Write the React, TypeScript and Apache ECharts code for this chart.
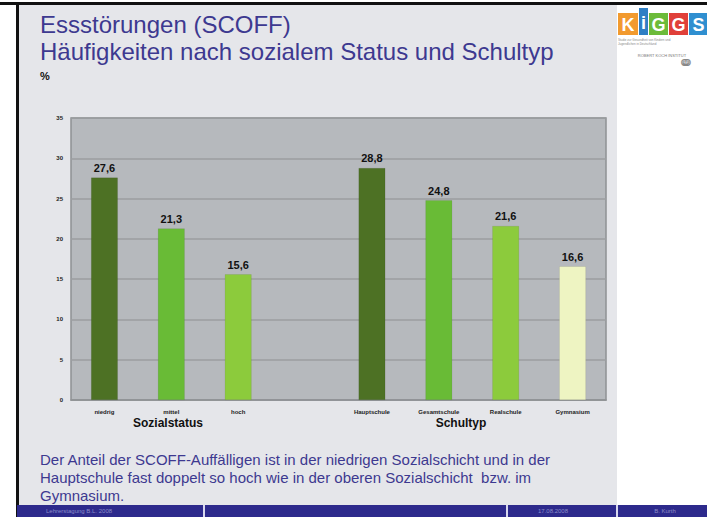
import React, { useEffect, useRef } from "react";
import * as echarts from "echarts";

const categories = ["niedrig", "mittel", "hoch", "", "Hauptschule", "Gesamtschule", "Realschule", "Gymnasium"];
const values: (number | null)[] = [27.6, 21.3, 15.6, null, 28.8, 24.8, 21.6, 16.6];
const barColors = ["#4d7124", "#69bb36", "#8ccb3c", "#ffffff", "#4d7124", "#69bb36", "#8ccb3c", "#eef4c2"];
const yTicks = { min: 0, max: 35, interval: 5 };
const groupLabels = ["Sozialstatus", "Schultyp"];
const titleLines = ["Essstörungen (SCOFF)", "Häufigkeiten nach sozialem Status und Schultyp"];
const noteLines = [
  "Der Anteil der SCOFF-Auffälligen ist in der niedrigen Sozialschicht und in der",
  "Hauptschule fast doppelt so hoch wie in der oberen Sozialschicht  bzw. im",
  "Gymnasium.",
];
const footerTexts = ["Lehrerstagung B.L. 2008", "17.08.2008", "B. Kurth"];

export default function App() {
  const ref = useRef<HTMLDivElement>(null);
  useEffect(() => {
    if (!ref.current) return;
    const chart = echarts.init(ref.current, undefined, { renderer: "svg" });
    const titleColor = "#3d3990";
    const font = "Liberation Sans, Arial, sans-serif";
    const logoLetters = [
      { ch: "K", bg: "#f29a2e", x: 618, w: 20, y: 13, h: 22 },
      { ch: "i", bg: "#2f7fc4", x: 639, w: 9, y: 8, h: 27 },
      { ch: "G", bg: "#6cbb3a", x: 649, w: 19, y: 13, h: 22 },
      { ch: "G", bg: "#e0403a", x: 669, w: 19, y: 13, h: 22 },
      { ch: "S", bg: "#2f8fd0", x: 689, w: 19, y: 13, h: 22 },
    ];
    const graphics: any[] = [
      { type: "rect", z: -100, shape: { x: 17, y: 5, width: 600, height: 500 }, style: { fill: "#e5e6ea" } },
      { type: "rect", z: -99, shape: { x: 0, y: 2, width: 707, height: 3 }, style: { fill: "#111" } },
      { type: "rect", z: -99, shape: { x: 16, y: 2, width: 3, height: 515 }, style: { fill: "#111" } },
      { type: "rect", z: -99, shape: { x: 17, y: 505, width: 690, height: 12 }, style: { fill: "#2d2a8c" } },
      { type: "rect", z: -98, shape: { x: 203, y: 505, width: 2, height: 12 }, style: { fill: "#d8d8ee" } },
      { type: "rect", z: -98, shape: { x: 506, y: 505, width: 2, height: 12 }, style: { fill: "#d8d8ee" } },
      { type: "rect", z: -98, shape: { x: 616, y: 505, width: 2, height: 12 }, style: { fill: "#d8d8ee" } },
      { type: "text", x: 46, y: 511, style: { text: footerTexts[0], fill: "#8c8cc8", font: `6px ${font}`, verticalAlign: "middle" } },
      { type: "text", x: 553, y: 511, style: { text: footerTexts[1], fill: "#8c8cc8", font: `6px ${font}`, align: "center", verticalAlign: "middle" } },
      { type: "text", x: 665, y: 511, style: { text: footerTexts[2], fill: "#8c8cc8", font: `6px ${font}`, align: "center", verticalAlign: "middle" } },
      { type: "text", x: 40, y: 24, style: { text: titleLines[0], fill: titleColor, font: `24px ${font}`, verticalAlign: "middle" } },
      { type: "text", x: 40, y: 51, style: { text: titleLines[1], fill: titleColor, font: `24px ${font}`, verticalAlign: "middle" } },
      { type: "text", x: 40, y: 76, style: { text: "%", fill: "#111", font: `bold 11px ${font}`, verticalAlign: "middle" } },
      { type: "text", x: 168, y: 423, style: { text: groupLabels[0], fill: "#111", font: `bold 12px ${font}`, align: "center", verticalAlign: "middle" } },
      { type: "text", x: 461, y: 423, style: { text: groupLabels[1], fill: "#111", font: `bold 12px ${font}`, align: "center", verticalAlign: "middle" } },
      ...noteLines.map((t, i) => ({
        type: "text", x: 40, y: 459 + i * 18,
        style: { text: t, fill: titleColor, font: `15px ${font}`, verticalAlign: "middle" },
      })),
      ...logoLetters.flatMap((l) => [
        { type: "rect", shape: { x: l.x, y: l.y, width: l.w, height: l.h }, style: { fill: l.bg } },
        { type: "text", x: l.x + l.w / 2, y: l.y + l.h / 2 + 1, style: { text: l.ch, fill: "#fff", font: `bold 18px ${font}`, align: "center", verticalAlign: "middle" } },
      ]),
      { type: "text", x: 618, y: 40, style: { text: "Studie zur Gesundheit von Kindern und", fill: "#888", font: `3px ${font}`, verticalAlign: "middle" } },
      { type: "text", x: 618, y: 44, style: { text: "Jugendlichen in Deutschland", fill: "#888", font: `3px ${font}`, verticalAlign: "middle" } },
      { type: "text", x: 662, y: 55, style: { text: "ROBERT KOCH INSTITUT", fill: "#777", font: `4px ${font}`, align: "center", verticalAlign: "middle" } },
      { type: "text", x: 686, y: 63, style: { text: "ↈ", fill: "#888", font: `9px ${font}`, align: "center", verticalAlign: "middle" } },
    ];

    chart.setOption({
      animation: false,
      backgroundColor: "#ffffff",
      grid: {
        left: 71, right: 101, top: 118, bottom: 117,
        show: true, backgroundColor: "#b6b9bd", borderColor: "#8e9194", borderWidth: 1.5,
      },
      xAxis: {
        type: "category",
        data: categories,
        axisLine: { lineStyle: { color: "#8e9194", width: 1.5 } },
        axisTick: { show: false },
        axisLabel: { color: "#222", fontSize: 6, fontWeight: "bold", fontFamily: font, interval: 0, margin: 9 },
      },
      yAxis: {
        type: "value",
        min: yTicks.min, max: yTicks.max, interval: yTicks.interval,
        axisLine: { show: false },
        axisTick: { show: false },
        splitLine: { lineStyle: { color: "#9b9ea1", width: 1.5 } },
        axisLabel: { color: "#222", fontSize: 6, fontWeight: "bold", fontFamily: font, margin: 8 },
      },
      series: [
        {
          type: "bar",
          data: values.map((v, i) => ({ value: v, itemStyle: { color: barColors[i] } })),
          barWidth: "40%",
          itemStyle: { borderColor: "rgba(0,0,0,0.15)", borderWidth: 0.5 },
          label: {
            show: true, position: "top", distance: 4,
            color: "#111", fontSize: 11, fontWeight: "bold", fontFamily: font,
            formatter: (p: any) => (p.value == null ? "" : String(p.value).replace(".", ",")),
          },
        },
      ],
      graphic: graphics,
    });
    return () => chart.dispose();
  }, []);
  return <div ref={ref} style={{ position: "fixed", left: 0, top: 0, width: 707, height: 517 }} />;
}
